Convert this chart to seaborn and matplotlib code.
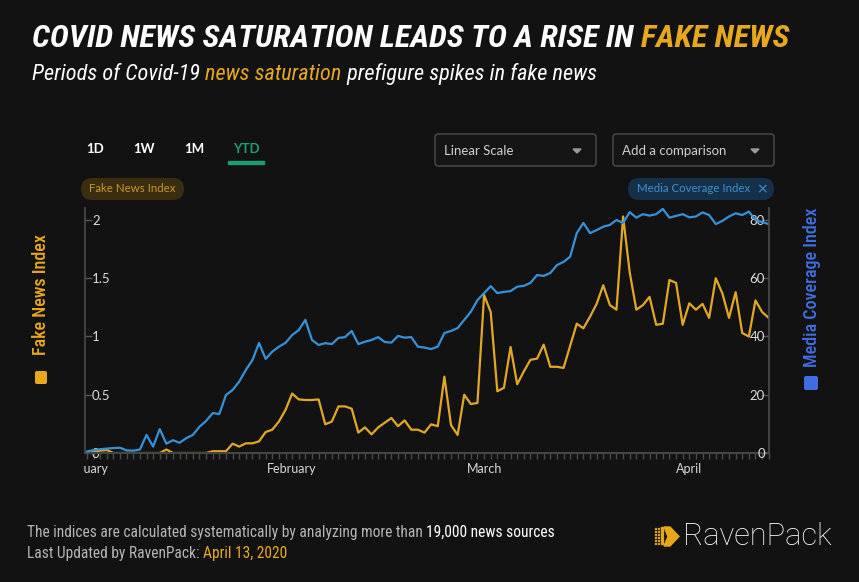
import pandas as pd
import seaborn as sns
import matplotlib.pyplot as plt
from matplotlib.patches import FancyBboxPatch, Polygon, Rectangle
from matplotlib.transforms import IdentityTransform, Bbox, TransformedBbox

# --- data: daily values, 1 Jan - 13 Apr 2020 ---
dates = pd.date_range("2020-01-01", "2020-04-13", freq="D")

fake_news = [
    0.005, 0.01, 0.02, 0.025, 0.0, 0.0, 0.0, 0.0, 0.0, 0.0,
    0.0, 0.0, 0.03, 0.0, 0.0, 0.0, 0.0, 0.0, 0.0, 0.015,
    0.015, 0.015, 0.08, 0.055, 0.083, 0.083, 0.10, 0.18, 0.20, 0.27,
    0.37, 0.51, 0.46, 0.455, 0.455, 0.46, 0.246, 0.27, 0.40, 0.40,
    0.38, 0.175, 0.22, 0.16, 0.22, 0.26, 0.30, 0.23, 0.28, 0.20,
    0.20, 0.175, 0.246, 0.23, 0.655, 0.24, 0.155, 0.50, 0.42, 0.43,
    1.356, 1.21, 0.53, 0.56, 0.91, 0.59, 0.70, 0.80, 0.81, 0.93,
    0.74, 0.74, 0.73, 0.92, 1.11, 1.07, 1.17, 1.28, 1.44, 1.27,
    1.23, 2.03, 1.55, 1.23, 1.27, 1.34, 1.10, 1.11, 1.485, 1.46,
    1.10, 1.285, 1.23, 1.28, 1.16, 1.50, 1.37, 1.16, 1.38, 1.03,
    1.00, 1.31, 1.21, 1.16,
]

media_coverage = [
    0.5, 1.0, 1.3, 1.5, 1.7, 1.8, 0.9, 0.8, 1.2, 6.2,
    2.2, 8.2, 3.2, 4.4, 3.5, 5.1, 6.2, 9.0, 11.0, 13.7,
    13.4, 19.9, 21.6, 24.5, 28.5, 31.9, 37.8, 32.3, 34.8, 36.5,
    37.8, 40.5, 42.2, 45.7, 38.8, 37.1, 37.7, 37.4, 39.5, 39.8,
    41.9, 37.4, 38.2, 38.8, 39.8, 38.1, 37.9, 40.2, 39.6, 39.8,
    36.5, 36.2, 35.7, 36.5, 41.2, 41.9, 42.9, 45.7, 48.5, 52.5,
    54.9, 57.3, 54.9, 55.3, 55.6, 57.1, 57.4, 58.4, 61.1, 60.8,
    61.8, 64.5, 65.6, 67.4, 75.5, 79.0, 75.5, 76.5, 77.7, 78.3,
    80.0, 79.0, 82.7, 80.8, 82.0, 81.5, 82.0, 83.8, 80.8, 81.4,
    82.0, 80.9, 81.2, 82.6, 81.7, 78.6, 79.7, 81.2, 82.3, 81.7,
    82.9, 80.0, 79.3, 78.6,
]

month_starts = pd.to_datetime(["2020-01-01", "2020-02-01", "2020-03-01", "2020-04-01"])
month_labels = ["January", "February", "March", "April"]
left_ticks = [0, 0.5, 1, 1.5, 2]
left_tick_labels = ["0", "0.5", "1", "1.5", "2"]
right_ticks = [0, 20, 40, 60, 80]
range_buttons = ["1D", "1W", "1M", "YTD"]

# --- colours ---
BG = "#121212"
ORANGE = "#E8A81C"
YELLOW_LINE = "#E3A823"
BLUE_LINE = "#3592DA"
BLUE_LABEL = "#3F6EE2"
GREEN = "#1B9E74"
GREY_TXT = "#B4B4B4"

sns.set_theme(style="dark", rc={"axes.facecolor": BG, "figure.facecolor": BG,
                                "savefig.facecolor": BG})
plt.rcParams["font.family"] = ["Lato", "DejaVu Sans"]
COND = ["Roboto Condensed", "Liberation Sans Narrow", "DejaVu Sans"]

W, H = 859, 582
fig = plt.figure(figsize=(W / 100, H / 100), dpi=100)
ID = IdentityTransform()


def T(px, py, s, **kw):
    # text placed in pixel coords measured from the top-left
    return fig.text(px, H - py, s, transform=ID, **kw)


def rich(px, py, parts, **kw):
    r = fig.canvas.get_renderer()
    x = px
    for s, c in parts:
        t = T(x, py, s, color=c, **kw)
        x = t.get_window_extent(r).x1
    return x


def fit_size(s, width, base=20, **kw):
    r = fig.canvas.get_renderer()
    t = T(0, 0, s, fontsize=base, **kw)
    w = t.get_window_extent(r).width
    t.remove()
    return base * width / w


def box(x0, y0, x1, y1, face, edge="none", r=3, lw=1):
    p = FancyBboxPatch((x0, H - y1), x1 - x0, y1 - y0,
                       boxstyle=f"round,pad=0,rounding_size={r}",
                       transform=ID, facecolor=face, edgecolor=edge, lw=lw)
    fig.add_artist(p)


# --- main chart ---
ax = fig.add_axes([85 / W, 1 - 453 / H, (769 - 85) / W, (453 - 208) / H])
ax2 = ax.twinx()

df = pd.DataFrame({"date": dates, "fake": fake_news, "media": media_coverage})
sns.lineplot(data=df, x="date", y="fake", ax=ax, color=YELLOW_LINE, lw=1.6)
sns.lineplot(data=df, x="date", y="media", ax=ax2, color=BLUE_LINE, lw=1.6)

ax.set_xlim(dates[0] - pd.Timedelta(hours=7), dates[-1] + pd.Timedelta(hours=1))
ax.set_ylim(0, 2.103)
ax2.set_ylim(0, 84.12)
ax.set_xlabel("")
ax.set_ylabel("")
ax2.set_ylabel("")
ax.grid(False)
ax2.grid(False)

ax.set_xticks(month_starts)
ax.set_xticklabels(month_labels)
ax.set_xticks(dates, minor=True)
ax.tick_params(axis="x", which="both", bottom=True, length=4, width=1,
               color="#4a4a4a", labelcolor="#d8d8d8", labelsize=9, pad=3)

ax.set_yticks(left_ticks)
ax.set_yticklabels(left_tick_labels)
ax.tick_params(axis="y", left=True, direction="in", length=5, width=1,
               color="#555555", labelcolor="#dcdcdc", labelsize=9.5, pad=-5)
for lab in ax.get_yticklabels():
    lab.set_horizontalalignment("left")

ax2.set_yticks(right_ticks)
ax2.tick_params(axis="y", right=True, direction="in", length=5, width=1,
                color="#555555", labelcolor="#dcdcdc", labelsize=9.5, pad=-3)
for lab in ax2.get_yticklabels():
    lab.set_horizontalalignment("right")

for s in ["top", "right"]:
    ax.spines[s].set_visible(False)
ax.spines["left"].set_color("#4a4a4a")
ax.spines["bottom"].set_color("#454545")
ax.spines["bottom"].set_linewidth(1.5)
for s in ["top", "left", "bottom"]:
    ax2.spines[s].set_visible(False)
ax2.spines["right"].set_color("#4a4a4a")

# "January" label is cut off at the left in the original
clip = TransformedBbox(Bbox.from_extents(83, 0, W, H), ID)
for lab in ax.get_xticklabels():
    if lab.get_text() == "January":
        lab.set_clip_box(clip)
        lab.set_clip_on(True)

# axis titles with little colour squares
T(41, 295, "Fake News Index", color=ORANGE, fontsize=13, rotation=90,
  ha="center", va="center", family=COND, weight="medium")
box(35, 371, 47, 384, ORANGE, r=2)
T(812, 287, "Media Coverage Index", color=BLUE_LABEL, fontsize=13, rotation=90,
  ha="center", va="center", family=COND, weight="medium")
box(804, 376, 818, 390, BLUE_LABEL, r=2)

# --- title and subtitle ---
title_kw = dict(family=COND, weight="bold", style="italic", va="baseline")
ts = fit_size("COVID NEWS SATURATION LEADS TO A RISE IN FAKE NEWS", 757, **title_kw)
rich(32, 47, [("COVID NEWS SATURATION LEADS TO A RISE IN ", "white"),
              ("FAKE NEWS", ORANGE)], fontsize=ts, **title_kw)

sub_kw = dict(family=COND, style="italic", va="baseline")
ss = fit_size("Periods of Covid-19 news saturation prefigure spikes in fake news", 562, **sub_kw)
rich(32, 80, [("Periods of Covid-19 ", "white"), ("news saturation", ORANGE),
              (" prefigure spikes in fake news", "white")], fontsize=ss, **sub_kw)

# --- range buttons ---
for label, cx in zip(range_buttons, [95, 144, 194, 246]):
    col = GREEN if label == "YTD" else "white"
    T(cx, 149, label, color=col, fontsize=9.5, weight="bold", ha="center", va="center")
fig.add_artist(Rectangle((228, H - 164), 36, 3, transform=ID, color=GREEN))

# --- dropdowns ---
for x0, x1, label in [(435, 596, "Linear Scale"), (613, 774, "Add a comparison")]:
    box(x0, 134, x1, 166, "#151515", edge="#4d4d4d", r=3)
    T(x0 + 9, 151, label, color="#cfcfcf", fontsize=9.5, va="center")
    ax_x = x1 - 19
    fig.add_artist(Polygon([(ax_x - 4, H - 149), (ax_x + 4, H - 149), (ax_x, H - 153)],
                           transform=ID, color="#9a9a9a"))

# --- legend pills ---
box(81, 178, 184, 200, "#3a2d10", r=11)
T(132.5, 189, "Fake News Index", color="#C9982C", fontsize=8.3, ha="center", va="center")
box(628, 178, 774, 200, "#15314a", r=11)
T(637, 189, "Media Coverage Index", color="#3D8FD2", fontsize=8.3, va="center")
T(762, 189, "\u00d7", color="#3D8FD2", fontsize=10, ha="center", va="center",
  family=["DejaVu Sans"])

# --- footer ---
foot_kw = dict(family=COND, va="baseline")
fs = fit_size("The indices are calculated systematically by analyzing more than 19,000 news sources",
              529, **foot_kw)
rich(27, 537, [("The indices are calculated systematically by analyzing more than ", GREY_TXT),
               ("19,000 news sources", "white")], fontsize=fs, **foot_kw)
rich(27, 558, [("Last Updated by RavenPack: ", GREY_TXT), ("April 13, 2020", ORANGE)],
     fontsize=fs, **foot_kw)

# --- RavenPack logo: halftone chevron + wordmark ---
fig.add_artist(Polygon([(664, H - 527), (670, H - 527), (679, H - 536.5),
                        (670, H - 546), (664, H - 546), (668, H - 536.5)],
                       transform=ID, color=ORANGE))
for i, xx in enumerate([655, 658, 661]):
    for yy in range(529, 545, 3):
        sz = 0.7 + i * 0.5
        fig.add_artist(Rectangle((xx, H - yy), sz, sz, transform=ID, color=ORANGE))
logo_kw = dict(family=["Roboto", "DejaVu Sans"], weight="light", va="baseline")
ls = fit_size("RavenPack", 149, **logo_kw)
T(683, 545, "RavenPack", color="white", fontsize=ls, **logo_kw)

fig.savefig("out.png", dpi=100)
